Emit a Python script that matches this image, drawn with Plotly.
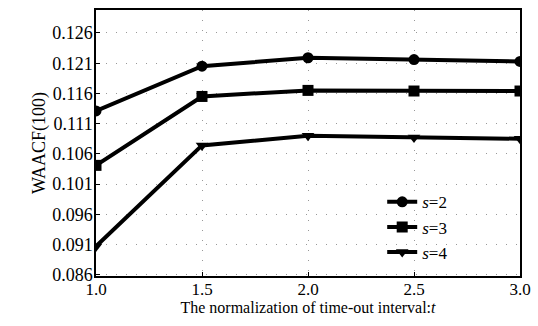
import plotly.graph_objects as go

x_vals = [1.0, 1.5, 2.0, 2.5, 3.0]
s2 = [0.1131, 0.1205, 0.1219, 0.1216, 0.1213]
s3 = [0.1041, 0.1155, 0.1165, 0.1164, 0.1164]
s4 = [0.0907, 0.1074, 0.1090, 0.1087, 0.1085]
series_names = ["<i>s</i>=2", "<i>s</i>=3", "<i>s</i>=4"]
y_ticks = [0.086, 0.091, 0.096, 0.101, 0.106, 0.111, 0.116, 0.121, 0.126]
x_ticks = [1.0, 1.5, 2.0, 2.5, 3.0]

fig = go.Figure()
for name, ys, sym in zip(series_names, [s2, s3, s4], ["circle", "square", "triangle-down"]):
    fig.add_trace(go.Scatter(
        x=x_vals, y=ys, name=name, mode="lines+markers",
        line=dict(color="black", width=4),
        marker=dict(symbol=sym, size=11, color="black"),
    ))

font = "Liberation Serif, serif"
fig.update_layout(
    width=538, height=326,
    margin=dict(l=96, r=18, t=10, b=50, autoexpand=False),
    plot_bgcolor="white", paper_bgcolor="white",
    font=dict(family=font, color="black", size=16),
    showlegend=True,
    legend=dict(x=0.675, y=0.345, xanchor="left", yanchor="top",
                bgcolor="rgba(0,0,0,0)", font=dict(family=font, size=17),
                tracegroupgap=0, itemwidth=30),
    xaxis=dict(range=[1.0, 3.0], tickvals=x_ticks,
               ticktext=[f"{v:.1f}" for v in x_ticks],
               showline=True, linecolor="black", linewidth=1.5, mirror=True,
               ticks="inside", ticklen=4, tickcolor="black",
               showgrid=True, gridcolor="#999", griddash="1px,9px", gridwidth=1,
               zeroline=False, tickfont=dict(family=font, size=17),
               ticklabelstandoff=-3, automargin=False,
               title=dict(text="The normalization of time-out interval:<i>t</i>",
                          font=dict(family=font, size=16), standoff=0)),
    yaxis=dict(range=[0.0858, 0.1298], tickvals=y_ticks,
               ticktext=[f"{v:.3f}" for v in y_ticks],
               showline=True, linecolor="black", linewidth=1.5, mirror=True,
               ticks="inside", ticklen=4, tickcolor="black",
               showgrid=True, gridcolor="#999", griddash="1px,9px", gridwidth=1,
               zeroline=False, tickfont=dict(family=font, size=18),
               ticklabelstandoff=-2, automargin=False,
               title=dict(text="WAACF(100)", font=dict(family=font, size=18), standoff=2)),
)

fig.write_html("out.html", config={"displayModeBar": False},
               post_script="document.body.style.margin='0';")
